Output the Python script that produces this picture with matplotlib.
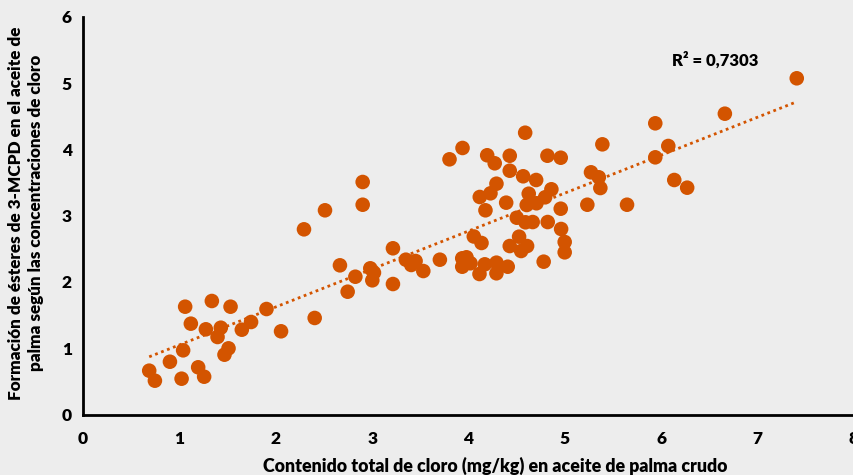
import matplotlib.pyplot as plt
import numpy as np

# %%
# cloro total (mg/kg) vs esteres 3-MCPD
cloro = [0.687, 0.746, 0.902, 1.039, 1.023, 1.060, 1.119, 1.195, 1.257, 1.275,
         1.337, 1.396, 1.430, 1.468, 1.510, 1.531, 1.648, 1.744, 1.904, 2.055,
         2.404, 2.293, 2.511, 2.902, 2.902, 2.666, 2.746, 2.826, 2.981, 3.019,
         3.002, 3.216, 3.216, 3.350, 3.406, 3.451, 3.531, 3.703, 3.803, 3.938,
         3.935, 3.979, 4.021, 3.935, 4.055, 4.135, 4.114, 4.169, 4.290, 4.290,
         4.407, 4.117, 4.176, 4.194, 4.272, 4.290, 4.228, 4.428, 4.428, 4.588,
         4.567, 4.702, 4.625, 4.860, 4.795, 4.705, 4.604, 4.391, 4.819, 4.957,
         4.957, 4.501, 4.591, 4.666, 4.822, 4.961, 4.998, 4.998, 4.525, 4.428,
         4.608, 4.546, 4.780, 5.271, 5.352, 5.368, 5.233, 5.389, 5.645, 5.938,
         6.073, 5.938, 6.135, 6.269, 6.660, 7.406]
mcpd = [0.661, 0.510, 0.796, 0.968, 0.540, 1.626, 1.370, 0.712, 0.570, 1.285,
        1.712, 1.169, 1.309, 0.902, 0.998, 1.626, 1.279, 1.395, 1.591, 1.255,
        1.456, 2.793, 3.080, 3.507, 3.164, 2.250, 1.852, 2.078, 2.205, 2.139,
        2.024, 2.507, 1.968, 2.335, 2.255, 2.315, 2.164, 2.335, 3.849, 4.020,
        2.356, 2.371, 2.281, 2.229, 2.685, 2.587, 2.119, 2.265, 2.290, 2.130,
        2.229, 3.281, 3.080, 3.910, 3.789, 3.481, 3.336, 3.903, 3.677, 4.250,
        3.593, 3.537, 3.330, 3.397, 3.276, 3.186, 3.160, 3.195, 3.903, 3.873,
        3.104, 2.968, 2.899, 2.903, 2.903, 2.798, 2.602, 2.446, 2.682, 2.541,
        2.541, 2.466, 2.305, 3.653, 3.578, 3.416, 3.164, 4.075, 3.164, 4.392,
        4.050, 3.879, 3.537, 3.421, 4.537, 5.071]
r2_text = 'R² = 0,7303'

naranja = '#D35400'
fondo = '#EDEDED'

plt.rcParams['font.family'] = ['Lato', 'DejaVu Sans']
plt.rcParams['font.weight'] = 'heavy'

# %%
fig = plt.figure(figsize=(8.54, 4.75), dpi=100, facecolor=fondo)
ax = fig.add_axes([83/854, 1 - 414.5/475, 1 - 83/854, (414.5 - 16.7)/475])
ax.set_facecolor(fondo)

x = np.array(cloro)
y = np.array(mcpd)
ax.scatter(x, y, s=110, color=naranja, edgecolor='none', zorder=3)

# linear trendline
p = np.polyfit(x, y, 1)
xx = np.array([x.min(), x.max()])
ax.plot(xx, np.polyval(p, xx), color=naranja, lw=2, ls=(0, (1, 1.3)), zorder=2)

ax.text(6.56, 5.35, r2_text, ha='center', va='center', fontsize=12)

ax.set_xlim(0, 8)
ax.set_ylim(0, 6)
ax.set_xticks(range(0, 9))
ax.set_yticks(range(0, 7))
ax.tick_params(length=0, labelsize=12.5)
ax.tick_params(axis='x', pad=12)
ax.tick_params(axis='y', pad=8)
for s in ['top', 'right']:
    ax.spines[s].set_visible(False)
for s in ['left', 'bottom']:
    ax.spines[s].set_linewidth(2)
    ax.spines[s].set_color('black')

fig.text(495/854, 1 - 466/475, 'Contenido total de cloro (mg/kg) en aceite de palma crudo',
         ha='center', va='center', fontsize=12.8)
fig.text(26/854, 1 - 213/475,
         'Formación de ésteres de 3-MCPD en el aceite de\npalma según las concentraciones de cloro',
         ha='center', va='center', rotation=90, fontsize=12.3, linespacing=1.25)

fig.savefig('out.png', dpi=100, facecolor=fondo)
